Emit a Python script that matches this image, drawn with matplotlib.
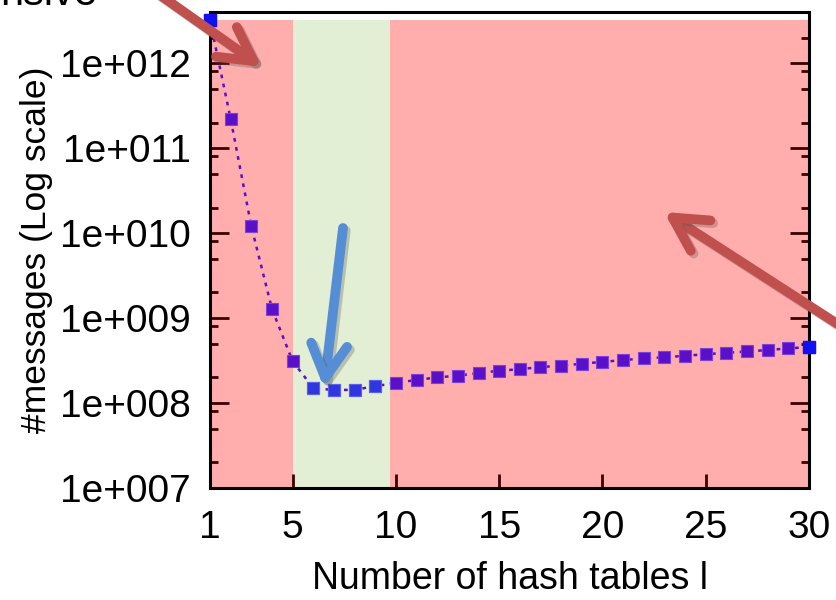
import numpy as np
import matplotlib
matplotlib.use("Agg")
import matplotlib.pyplot as plt
from matplotlib.ticker import LogLocator, FuncFormatter, FixedLocator
import matplotlib.patheffects as pe

plt.rcParams['font.family'] = ['Liberation Sans', 'DejaVu Sans']

# number of hash tables vs. messages sent
tables = [1, 2, 3, 4, 5, 6, 7, 8, 9, 10, 11, 12, 13, 14, 15,
          16, 17, 18, 19, 20, 21, 22, 23, 24, 25, 26, 27, 28, 29, 30]
messages = [3.2e12, 2.2e11, 1.2e10, 1.28e9, 3.1e8, 1.5e8, 1.42e8, 1.43e8, 1.58e8, 1.72e8,
            1.87e8, 2.0e8, 2.1e8, 2.25e8, 2.4e8, 2.5e8, 2.65e8, 2.75e8, 2.9e8, 3.05e8,
            3.2e8, 3.35e8, 3.45e8, 3.6e8, 3.75e8, 3.9e8, 4.05e8, 4.2e8, 4.4e8, 4.55e8]

# shaded regions: (start, end, colour)
regions = [(1, 5, '#ffadad'), (5, 9.7, '#e2efd4'), (9.7, 30, '#ffadad')]
region_top = 3.2e12

xticks = [1, 5, 10, 15, 20, 25, 30]

fig = plt.figure(figsize=(8.36, 6), dpi=100)
ax = fig.add_axes([0.2512, 0.1867, 0.7165, 0.7933])
ax.set_yscale('log')
ax.set_xlim(1, 30)
ax.set_ylim(1e7, 4e12)

for x0, x1, c in regions:
    ax.fill_between([x0, x1], [1e7, 1e7], [region_top, region_top], color=c, lw=0, zorder=0)

ax.plot(tables, messages, ls=(0, (1.5, 2.2)), lw=1.8, color='#5a10c8',
        marker='s', ms=8, mfc='#5a10c8', mec='#7a40e0', mew=0.8, zorder=3, clip_on=False)
mid = slice(5, 9)
ax.plot(tables[mid], messages[mid], ls='none', marker='s', ms=8,
        mfc='#2f36e0', mec='#5a60f0', mew=0.8, zorder=4)
ax.plot([tables[0], tables[-1]], [messages[0], messages[-1]], ls='none', marker='s', ms=8,
        mfc='#1010f0', mec='#1010f0', zorder=4, clip_on=False)

for s in ax.spines.values():
    s.set_linewidth(2.2)
    s.set_color('black')

ax.yaxis.set_major_locator(LogLocator(base=10, numticks=10))
ax.yaxis.set_minor_locator(LogLocator(base=10, subs=(2, 5, 8), numticks=10))
ax.yaxis.set_major_formatter(FuncFormatter(lambda v, p: f"1e+{int(round(np.log10(v))):03d}"))
ax.xaxis.set_major_locator(FixedLocator(xticks))
ax.xaxis.set_minor_locator(FixedLocator([]))

ax.tick_params(axis='y', which='major', direction='in', length=14, width=2, color='#3a0000',
               right=True, labelsize=28, pad=14)
ax.tick_params(axis='y', which='minor', direction='in', length=6, width=2, color='#3a0000',
               right=True)
ax.tick_params(axis='x', which='major', direction='in', length=10, width=2, color='#3a0000',
               top=False, labelsize=28, pad=16)

ax.set_ylabel('#messages (Log scale)', fontsize=25.5, labelpad=5)
ax.set_xlabel('Number of hash tables l', fontsize=27, labelpad=11)

# callout arrows
shadow = [pe.SimpleLineShadow(offset=(2, -2), alpha=0.3, shadow_color='#555555'), pe.Normal()]

def arrow(tail, head, color, lw):
    return ax.annotate('', xy=head, xytext=tail, xycoords='figure pixels',
                       textcoords='figure pixels',
                       arrowprops=dict(arrowstyle='->,head_length=2.4,head_width=1.3',
                                       color=color, lw=lw, capstyle='round',
                                       joinstyle='round', shrinkA=0, shrinkB=0,
                                       path_effects=shadow),
                       annotation_clip=False, zorder=10)

arrow((150, 612), (262, 533), '#c0504d', 7)
arrow((870, 255), (664, 388), '#c0504d', 7)
arrow((343, 372), (324, 212), '#558ed5', 7)

fig.text(0.0, 0.992, 'nsive', fontsize=30, ha='left', va='baseline')

fig.savefig('out.png', dpi=100)
